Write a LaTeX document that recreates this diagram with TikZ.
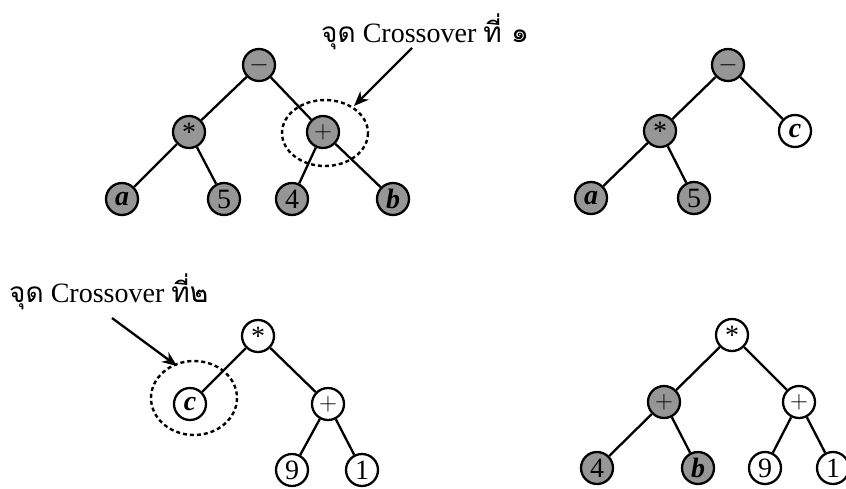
\documentclass[tikz,border=0pt]{standalone}
\usepackage{fontspec}
\setmainfont{Liberation Serif}
\newfontfamily\thai[Script=Thai]{Loma}
\usetikzlibrary{arrows.meta}
\definecolor{nodegray}{RGB}{150,150,150}
\tikzset{
  x=1pt, y=-1pt,
  tn/.style={circle, draw=black, line width=2.3pt, minimum size=32pt, inner sep=0pt,
    font=\fontsize{28}{28}\selectfont},
  gn/.style={tn, fill=nodegray},
  wn/.style={tn, fill=white},
  edge/.style={line width=2.3pt},
  sel/.style={dashed, line width=2.4pt, dash pattern=on 4pt off 3pt},
  lbl/.style={font=\fontsize{28}{28}\selectfont, inner sep=0pt, anchor=base west},
  arr/.style={line width=2.3pt, -{Stealth[length=15pt,width=12pt]}}
}
\newcommand{\opstar}{\raisebox{-0.28em}{*}}
\newcommand{\vv}[1]{\textbf{\textit{#1}}}
\begin{document}
\begin{tikzpicture}
\useasboundingbox (0,0) rectangle (846,488);
% tree 1
\node[gn] (r1) at (259,65) {$-$};
\node[gn] (m1) at (189,132) {\opstar};
\node[gn] (p1) at (323,132) {$+$};
\node[gn] (a1) at (122,199) {\vv{a}};
\node[gn] (f1) at (224,199) {5};
\node[gn] (q1) at (292,199) {4};
\node[gn] (b1) at (393,199) {\vv{b}};
\draw[edge] (r1) -- (m1); \draw[edge] (r1) -- (p1);
\draw[edge] (m1) -- (a1); \draw[edge] (m1) -- (f1);
\draw[edge] (p1) -- (q1); \draw[edge] (p1) -- (b1);
\draw[sel] (325,133) ellipse [x radius=43, y radius=33];
\node[lbl] (t1) at (321,42) {{\thai จุด} Crossover {\thai ที่ ๑}};
\coordinate (s1) at (412,48);
\coordinate (e1) at (354,106);
\draw[arr] (s1) -- (e1);
% tree 2
\node[gn] (r2) at (728,65) {$-$};
\node[gn] (m2) at (660,131) {\opstar};
\node[wn] (c2) at (795,131) {\vv{c}};
\node[gn] (a2) at (591,198) {\vv{a}};
\node[gn] (f2) at (694,198) {5};
\draw[edge] (r2) -- (m2); \draw[edge] (r2) -- (c2);
\draw[edge] (m2) -- (a2); \draw[edge] (m2) -- (f2);
% tree 3
\node[wn] (m3) at (258,336) {\opstar};
\node[wn] (c3) at (190,404) {\vv{c}};
\node[wn] (p3) at (328,404) {$+$};
\node[wn] (n3) at (292,470) {9};
\node[wn] (o3) at (362,470) {1};
\draw[edge] (m3) -- (c3); \draw[edge] (m3) -- (p3);
\draw[edge] (p3) -- (n3); \draw[edge] (p3) -- (o3);
\draw[sel] (194,398) ellipse [x radius=43, y radius=37];
\node[lbl] (t2) at (9,302) {{\thai จุด} Crossover {\thai ที่๒}};
\coordinate (s2) at (112,318);
\coordinate (e2) at (177,366);
\draw[arr] (s2) -- (e2);
% tree 4
\node[wn] (m4) at (732,335) {\opstar};
\node[gn] (p4) at (664,402) {$+$};
\node[wn] (q4) at (799,402) {$+$};
\node[gn] (f4) at (597,468) {4};
\node[gn] (b4) at (698,468) {\vv{b}};
\node[wn] (n4) at (765,468) {9};
\node[wn] (o4) at (833,468) {1};
\draw[edge] (m4) -- (p4); \draw[edge] (m4) -- (q4);
\draw[edge] (p4) -- (f4); \draw[edge] (p4) -- (b4);
\draw[edge] (q4) -- (n4); \draw[edge] (q4) -- (o4);
\end{tikzpicture}
\end{document}
